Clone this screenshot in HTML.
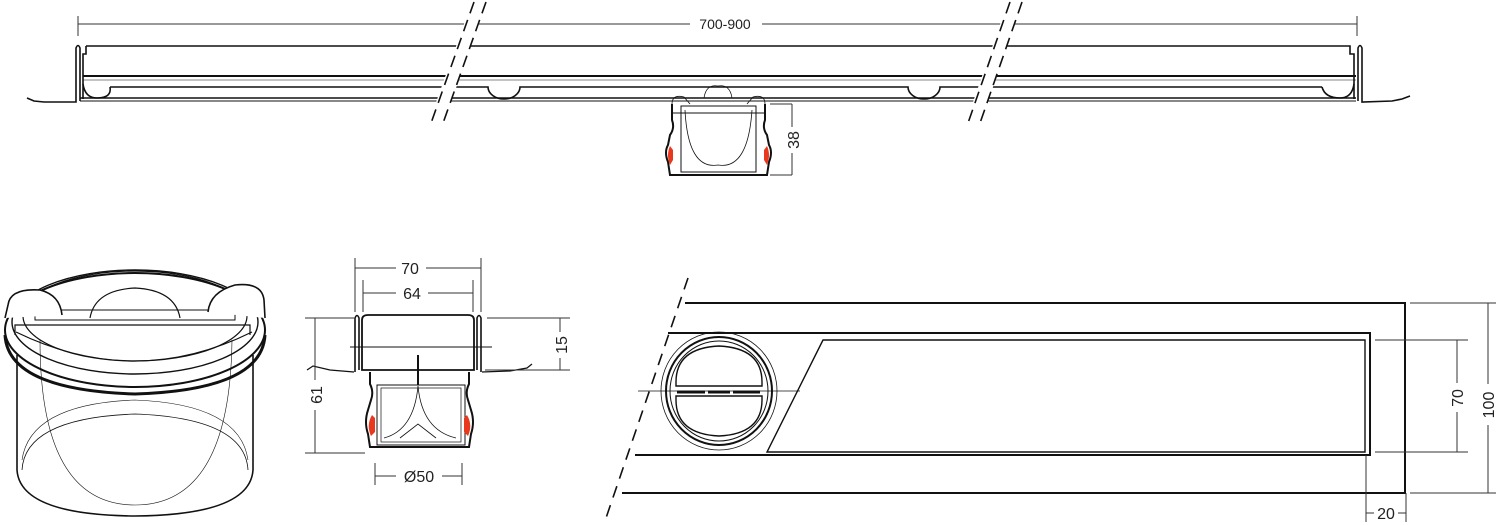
<!DOCTYPE html>
<html><head><meta charset="utf-8"><style>
html,body{margin:0;padding:0;background:#fff;}
svg{display:block;}
text{font-family:"Liberation Sans",sans-serif;fill:#222;}
</style></head><body>
<svg width="1498" height="525" viewBox="0 0 1498 525" xmlns="http://www.w3.org/2000/svg">
<g fill="none" stroke="#111" stroke-width="1.6">
<!-- TOP VIEW -->
<g stroke-width="1" stroke="#333">
<line x1="78" y1="24" x2="690" y2="24"/><line x1="762" y1="24" x2="1357" y2="24"/>
<line x1="78" y1="16" x2="78" y2="36"/><line x1="1357" y1="16" x2="1357" y2="36"/>
</g>
<!-- flanges -->
<path d="M27,98 L34,101 L44,102 L76,102 L76,48 Q78,43 80,48 L80,101"/>
<path d="M1410,96 L1402,99 L1392,101 L1362,102 L1362,48 Q1360,43 1358,48 L1358,101"/>
<!-- channel lines -->
<path d="M86,46 L1350,46 L1350,54 L1354,54 L1354,99"/>
<path d="M86,46 L86,54 L83,54 L83,99"/>
<line x1="83" y1="76" x2="1356" y2="76" stroke-width="2"/>
<line x1="83" y1="80" x2="1356" y2="80" stroke-width="0.6"/>
<path d="M110,87 L488,87 A16,12 0 0 0 520,87 L908,87 A16,12 0 0 0 940,87 L1322,87"/>
<path d="M83,84 Q85,98 97,98 Q112,98 110,87"/>
<path d="M1354,84 Q1352,98 1340,98 Q1325,98 1322,87"/>
<line x1="80" y1="98" x2="1356" y2="98"/>
<line x1="80" y1="101" x2="1356" y2="101" stroke-width="1"/>
<!-- breaks -->
<g stroke="#fff" stroke-width="14">
<line x1="480" y1="0" x2="435" y2="126"/><line x1="1016" y1="0" x2="972" y2="126"/>
</g>
<g stroke-dasharray="12,7" stroke-width="1.6">
<line x1="474" y1="2" x2="430" y2="126"/><line x1="486" y1="2" x2="442" y2="126"/>
<line x1="1010" y1="2" x2="967" y2="126"/><line x1="1022" y1="2" x2="979" y2="126"/>
</g>
<!-- drain -->
<path d="M672,104 L672,120 Q675,128 670,135 L668,145 Q664,152 668,162 L670,175 L767,175 L769,162 Q773,152 769,145 L767,135 Q762,128 765,120 L765,104" stroke-width="2"/>
<rect x="681" y="106" width="75" height="66" stroke-width="1"/>
<line x1="672" y1="113" x2="765" y2="113" stroke-width="1"/>
<path d="M685,110 Q688,170 718,165 Q748,170 752,110" stroke-width="0.8"/>
<path d="M704,98 Q706,84 718,86 Q730,84 732,98" stroke-width="0.8"/>
<path d="M672,104 Q672,94 684,97 L690,104" stroke-width="0.8"/>
<path d="M765,104 Q765,94 753,97 L747,104" stroke-width="0.8"/>
<g stroke="#333" stroke-width="1">
<line x1="770" y1="104" x2="792" y2="104"/><line x1="770" y1="175" x2="792" y2="175"/>
<line x1="792" y1="104" x2="792" y2="127"/><line x1="792" y1="153" x2="792" y2="175"/>
</g>
</g>
<path d="M670,146 Q666,155 670,165 L673,160 L673,150Z" fill="#e8391e"/>
<path d="M767,146 Q771,155 767,165 L764,160 L764,150Z" fill="#e8391e"/>
<text x="725" y="29" font-size="14" text-anchor="middle">700-900</text>
<text transform="translate(799,140) rotate(-90)" font-size="16" text-anchor="middle">38</text>

<!-- 3D VIEW -->
<g fill="none" stroke="#111">
<ellipse cx="135" cy="330" rx="130" ry="57" stroke-width="2"/>
<ellipse cx="135" cy="322" rx="123" ry="52" stroke-width="1.4"/>
<ellipse cx="135" cy="316" rx="112" ry="45" stroke-width="1.2"/>
<path d="M5,335 Q8,390 135,394 Q262,390 265,335" stroke-width="3"/>
<path d="M17,355 L17,470 Q20,515 135,516 Q250,515 253,470 L253,355" stroke-width="1.6"/>
<path d="M22,470 Q25,418 135,414 Q245,418 248,470" stroke-width="0.8"/>
<path d="M22,460 Q30,404 135,400 Q240,404 248,460" stroke-width="0.6"/>
<path d="M40,340 Q40,505 135,505 Q230,505 232,340" stroke-width="0.6"/>
<path d="M15,335 L15,325 L250,325 L250,335" stroke-width="1.2"/>
<path d="M35,310 L235,310 L235,320 L35,320Z" stroke-width="1"/>
<path d="M5,318 L8,305 Q10,288 40,290 Q60,295 62,315" stroke-width="1.6" fill="#fff"/>
<path d="M265,318 L264,300 Q262,282 235,285 Q210,292 208,312" stroke-width="1.6" fill="#fff"/>
<path d="M90,318 Q95,290 135,288 Q175,290 180,318" stroke-width="1.2"/>
<path d="M16,332 Q135,390 252,332" stroke-width="1.2"/>
</g>

<!-- SECTION VIEW -->
<g fill="none" stroke="#111">
<path d="M355,372 L355,318 Q357,313 359,318 L359,370" stroke-width="1.6"/>
<path d="M481,372 L481,318 Q479,313 477,318 L477,370" stroke-width="1.6"/>
<path d="M307,370 L313,366 L330,370 L354,372" stroke-width="1.2"/>
<path d="M482,372 L510,371 L527,368 L532,364" stroke-width="1.2"/>
<path d="M362,370 L362,320 Q362,315 368,315 L468,315 Q474,315 474,320 L474,370 Z" stroke-width="1.8"/>
<line x1="350" y1="347" x2="492" y2="347" stroke-width="1"/>
<line x1="418" y1="355" x2="418" y2="385" stroke-width="2"/>
<path d="M370,372 L370,384 Q374,392 371,400 L368,410 Q364,422 368,434 L370,447 L469,447 L471,434 Q475,422 471,410 L468,400 Q465,392 469,384 L469,372" stroke-width="2"/>
<rect x="377" y="385" width="88" height="60" stroke-width="1"/>
<rect x="381" y="388" width="80" height="54" stroke-width="0.7"/>
<path d="M384,438 Q414,430 418,386 Q422,430 456,438" stroke-width="0.8"/>
<path d="M400,438 L418,424 L436,438" stroke-width="0.8"/>
<g stroke="#333" stroke-width="1">
<line x1="355" y1="258" x2="355" y2="312"/><line x1="481" y1="258" x2="481" y2="312"/>
<line x1="355" y1="268" x2="396" y2="268"/><line x1="426" y1="268" x2="481" y2="268"/>
<line x1="363" y1="280" x2="363" y2="312"/><line x1="473" y1="280" x2="473" y2="312"/>
<line x1="363" y1="293" x2="396" y2="293"/><line x1="428" y1="293" x2="473" y2="293"/>
<line x1="305" y1="318" x2="354" y2="318"/><line x1="305" y1="453" x2="365" y2="453"/>
<line x1="315" y1="318" x2="315" y2="380"/><line x1="315" y1="410" x2="315" y2="453"/>
<line x1="487" y1="318" x2="570" y2="318"/><line x1="485" y1="370" x2="570" y2="370"/>
<line x1="560" y1="318" x2="560" y2="332"/><line x1="560" y1="358" x2="560" y2="370"/>
<line x1="375" y1="463" x2="375" y2="485"/><line x1="462" y1="463" x2="462" y2="485"/>
<line x1="375" y1="476" x2="396" y2="476"/><line x1="442" y1="476" x2="462" y2="476"/>
</g>
</g>
<path d="M372,415 Q366,425 371,436 L375,432 L375,418Z" fill="#e8391e"/>
<path d="M467,415 Q473,425 468,436 L464,432 L464,418Z" fill="#e8391e"/>
<text x="410" y="274" font-size="16" text-anchor="middle">70</text>
<text x="412" y="299" font-size="16" text-anchor="middle">64</text>
<text transform="translate(322,395) rotate(-90)" font-size="16" text-anchor="middle">61</text>
<text transform="translate(567,345) rotate(-90)" font-size="16" text-anchor="middle">15</text>
<text x="419" y="482" font-size="16" text-anchor="middle">Ø50</text>

<!-- PLAN VIEW -->
<g fill="none" stroke="#111">
<path d="M685,303 L1405,303 L1405,493 L622,493" stroke-width="2"/>
<path d="M668,333 L1370,333 L1370,455 L635,455" stroke-width="2"/>
<path d="M823,340 L1365,340 L1365,452 L767,452 Z" stroke-width="1.4"/>
<ellipse cx="719" cy="391" rx="58" ry="59" stroke-width="0.8"/>
<ellipse cx="719" cy="391" rx="53" ry="54" stroke-width="2"/>
<ellipse cx="719" cy="391" rx="49" ry="50" stroke-width="1"/>
<path d="M676,386 L676,382 Q676,348 719,346 Q762,348 762,382 L762,386 Z" stroke-width="1.4"/>
<path d="M676,396 L676,400 Q676,434 719,436 Q762,434 762,400 L762,396 Z" stroke-width="1.4"/>
<line x1="638" y1="391" x2="800" y2="391" stroke-width="0.8"/>
<g stroke-width="3"><line x1="677" y1="392" x2="705" y2="392"/><line x1="708" y1="392" x2="730" y2="392"/><line x1="733" y1="392" x2="760" y2="392"/></g>
<g stroke="#333" stroke-width="1">
<line x1="1375" y1="340" x2="1468" y2="340"/><line x1="1375" y1="452" x2="1468" y2="452"/>
<line x1="1457" y1="340" x2="1457" y2="383"/><line x1="1457" y1="412" x2="1457" y2="452"/>
<line x1="1410" y1="303" x2="1496" y2="303"/><line x1="1410" y1="493" x2="1496" y2="493"/>
<line x1="1488" y1="303" x2="1488" y2="384"/><line x1="1488" y1="425" x2="1488" y2="493"/>
<line x1="1366" y1="455" x2="1366" y2="522"/><line x1="1406" y1="493" x2="1406" y2="522"/>
<line x1="1366" y1="513" x2="1374" y2="513"/><line x1="1398" y1="513" x2="1406" y2="513"/>
</g>
<line x1="688" y1="278" x2="606" y2="518" stroke-dasharray="12,8" stroke-width="1.6"/>
</g>
<text transform="translate(1463,398) rotate(-90)" font-size="16" text-anchor="middle">70</text>
<text transform="translate(1494,405) rotate(-90)" font-size="16" text-anchor="middle">100</text>
<text x="1386" y="519" font-size="16" text-anchor="middle">20</text>
</svg>
</body></html>
